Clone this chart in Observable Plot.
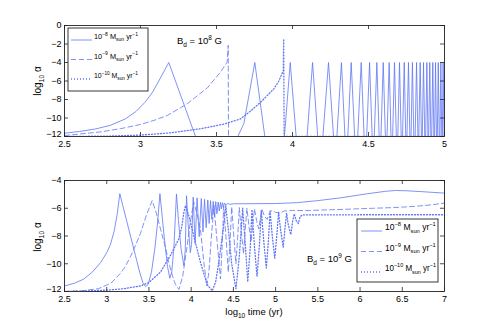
<!DOCTYPE html>
<html><head><meta charset="utf-8">
<script src="https://cdn.jsdelivr.net/npm/d3@7"></script>
<script src="https://cdn.jsdelivr.net/npm/@observablehq/plot@0.6"></script>
<style>
body{margin:0;background:#fff;}
#wrap{width:491px;height:327px;position:relative;overflow:hidden;background:#fff;}
#wrap svg{display:block;}
svg text{white-space:pre;}
</style></head><body><div id="wrap"></div>
<script>
// ---------- data ----------
const legendLabels = [["10","−8"],["10","−9"],["10","−10"]];
const topXTicks = [2.5,3,3.5,4,4.5,5];
const topXLabels = ["2.5","3","3.5","4","4.5","5"];
const topYTicks = [0,-2,-4,-6,-8,-10,-12];
const topYLabels = ["0","−2","−4","−6","−8","−10","−12"];
const botXTicks = [2.5,3,3.5,4,4.5,5,5.5,6,6.5,7];
const botXLabels = ["2.5","3","3.5","4","4.5","5","5.5","6","6.5","7"];
const botYTicks = [-4,-6,-8,-10,-12];
const botYLabels = ["−4","−6","−8","−10","−12"];

// top panel (B_d = 10^8 G)
const topSolid = [
[2.5,-11.65],[2.6,-11.45],[2.7,-11.2],[2.8,-10.8],[2.9,-10.1],[2.97,-9.3],[3.03,-8.3],[3.08,-7.2],[3.12,-6.0],[3.16,-4.8],[3.186,-4.0],[3.362,-12],
[3.64,-12],[3.68,-10.6],[3.752,-4],[3.818,-12],
[3.947,-12],[3.985,-4],[4.024,-12],
[4.096,-12],[4.132,-4],[4.166,-12],
[4.200,-12],[4.237,-4],[4.270,-12],
[4.292,-12],[4.322,-4],[4.345,-12],
[4.364,-12],[4.386,-4],[4.409,-12],
[4.429,-12],[4.452,-4],[4.471,-12],
[4.488,-12],[4.507,-4],[4.524,-12],
[4.538,-12],[4.555,-4],[4.570,-12],
[4.582,-12],[4.597,-4],[4.611,-12],
[4.622,-12],[4.636,-4],[4.648,-12],
[4.659,-12],[4.671,-4],[4.683,-12],
[4.693,-12],[4.704,-4],[4.715,-12],
[4.724,-12],[4.735,-4],[4.745,-12],
[4.753,-12],[4.763,-4],[4.772,-12],
[4.780,-12],[4.789,-4],[4.798,-12],
[4.807,-12],[4.816,-4],[4.825,-12],
[4.831,-12],[4.840,-4],[4.848,-12],
[4.854,-12],[4.862,-4],[4.870,-12],
[4.876,-12],[4.884,-4],[4.891,-12],
[4.896,-12],[4.903,-4],[4.910,-12],
[4.916,-12],[4.923,-4],[4.930,-12],
[4.935,-12],[4.941,-4],[4.947,-12],
[4.953,-12],[4.959,-4],[4.965,-12],
[4.970,-12],[4.976,-4],[4.982,-12],
[4.986,-12],[4.991,-4],[4.997,-12],[5.0,-12]];
const topDashed = [[2.5,-11.9],[2.74,-11.5],[2.87,-11.15],[3.0,-10.7],[3.09,-10.25],[3.176,-9.73],[3.307,-8.47],[3.44,-6.74],[3.526,-5.05],[3.57,-3.97],[3.577,-2.15],[3.579,-12],[5.0,-12]];
const topDotted = [[2.5,-12],[2.8,-11.95],[3.0,-11.85],[3.2,-11.6],[3.4,-11.15],[3.55,-10.65],[3.658,-10.1],[3.72,-9.3],[3.79,-8.3],[3.85,-7.3],[3.877,-6.85],[3.91,-6.0],[3.939,-4.9],[3.942,-1.45],[3.945,-12],[5.0,-12]];

// bottom panel (B_d = 10^9 G)
const botSolid = [
[2.5,-11.6],[2.62,-11.4],[2.73,-11.1],[2.83,-10.6],[2.93,-9.9],[3.0,-9.2],[3.045,-8.6],[3.09,-7.6],[3.125,-6.4],[3.155,-4.95],
[3.19,-5.8],[3.24,-7.0],[3.29,-8.2],[3.34,-9.4],[3.39,-10.6],[3.43,-11.4],[3.46,-11.65],[3.49,-11.5],[3.53,-10.6],[3.57,-8.9],[3.6,-7.2],[3.63,-4.95],
[3.66,-6.8],[3.69,-8.6],[3.72,-10.2],[3.747,-11.05],[3.77,-10.6],[3.795,-8.9],[3.826,-4.97],
[3.85,-6.9],[3.88,-8.9],[3.913,-10.15],[3.93,-9.0],[3.945,-5.1],
[3.965,-7.2],[3.99,-9.2],[4.005,-8.6],[4.024,-5.2],
[4.047,-8.55],[4.07,-5.25],[4.095,-8.05],[4.12,-5.3],[4.14,-7.7],[4.158,-5.35],[4.178,-7.4],[4.197,-5.4],
[4.213,-7.1],[4.229,-5.45],[4.245,-6.8],[4.261,-5.5],[4.276,-6.6],[4.291,-5.52],[4.305,-6.4],[4.32,-5.55],
[4.333,-6.2],[4.347,-5.57],[4.358,-6.05],[4.37,-5.6],[4.382,-5.9],[4.395,-5.62],[4.41,-5.8],[4.43,-5.65],[4.46,-5.72],[4.5,-5.68],
[5.0,-5.66],[5.25,-5.6],[5.5,-5.45],[5.77,-5.25],[6.08,-4.96],[6.3,-4.78],[6.42,-4.72],[6.55,-4.74],[6.72,-4.8],[7.0,-4.91]];
const botDashed = [
[2.5,-12],[2.7,-11.95],[2.9,-11.8],[3.05,-11.4],[3.16,-10.7],[3.22,-10.2],[3.28,-9.5],[3.34,-8.7],[3.4,-7.8],[3.47,-6.5],[3.538,-5.45],
[3.59,-6.4],[3.637,-7.5],[3.69,-8.7],[3.735,-9.9],[3.78,-10.9],[3.814,-11.5],[3.855,-11.85],[3.9,-10.9],[3.953,-8.7],[3.99,-7.0],[4.03,-5.55],
[4.07,-6.4],[4.11,-7.5],[4.15,-9.9],[4.185,-11.6],[4.21,-10.6],[4.24,-8.0],[4.27,-5.8],[4.31,-8.6],[4.347,-11.1],[4.365,-9.0],[4.385,-5.85],
[4.415,-8.3],[4.44,-10.6],[4.46,-8.5],[4.48,-5.9],[4.505,-8.0],[4.53,-10.0],[4.55,-8.2],[4.57,-5.95],[4.595,-7.7],[4.62,-9.3],[4.64,-7.6],[4.66,-6.0],
[4.685,-7.3],[4.71,-8.4],[4.73,-7.1],[4.75,-6.05],[4.775,-6.9],[4.8,-7.5],[4.82,-6.7],[4.84,-6.1],[4.87,-6.6],[4.9,-6.8],[4.93,-6.3],[4.96,-6.15],
[5.0,-6.3],[5.05,-6.35],[5.1,-6.2],[5.2,-6.16],[5.4,-6.16],[5.8,-6.08],[6.16,-6.0],[6.4,-5.95],[6.64,-5.87],[6.85,-5.75],[7.0,-5.63]];
const botDotted = [
[2.5,-12],[2.8,-11.95],[3.0,-11.9],[3.2,-11.8],[3.4,-11.6],[3.5,-11.35],[3.637,-10.6],[3.755,-9.4],[3.854,-8.2],[3.89,-7.3],[3.913,-6.3],[3.933,-5.8],
[3.97,-6.5],[4.012,-7.5],[4.06,-8.7],[4.11,-9.9],[4.19,-11.5],[4.25,-11.95],[4.29,-11.3],[4.327,-9.9],[4.38,-7.5],[4.41,-5.85],
[4.44,-7.5],[4.48,-10.0],[4.53,-11.8],[4.57,-9.5],[4.61,-6.0],[4.64,-8.5],[4.67,-11.3],[4.7,-8.8],[4.72,-6.1],[4.75,-8.8],[4.78,-10.9],
[4.81,-8.5],[4.83,-6.15],[4.86,-8.4],[4.89,-10.3],[4.915,-8.3],[4.935,-6.2],[4.96,-8.0],[4.99,-9.6],[5.015,-7.9],[5.035,-6.3],[5.06,-7.6],
[5.09,-8.8],[5.11,-7.5],[5.13,-6.35],[5.15,-7.2],[5.18,-7.9],[5.2,-7.0],[5.22,-6.4],[5.245,-6.9],[5.27,-7.1],[5.29,-6.6],[5.32,-6.48],[6.0,-6.47],[7.0,-6.47]];

// ---------- drawing ----------
const W = 491, ML = 64, MR = 47;
const BLUE = "#6076f4";
const FONT = "Liberation Sans, Arial, Helvetica, sans-serif";
const styles = {
  solid: {stroke: BLUE, strokeWidth: 0.8},
  dashed: {stroke: BLUE, strokeWidth: 0.8, strokeDasharray: "5,3"},
  dotted: {stroke: BLUE, strokeWidth: 1.3, strokeDasharray: "1,2"}
};

function panel({h, mt, mb, xDomain, yDomain, xTicks, xLabels, yTicks, yLabels, series}) {
  const innerH = h - mt - mb, innerW = W - ML - MR;
  const marks = series.map(([data, st]) =>
    Plot.line(data, {x: d => d[0], y: d => d[1], ...styles[st], clip: true}));
  const lowY = yTicks[yTicks.length - 1];
  return Plot.plot({
    width: W, height: h,
    marginLeft: ML, marginRight: MR, marginTop: mt, marginBottom: mb,
    style: {fontFamily: FONT, fontSize: "9px", background: "#fff", overflow: "visible", color: "#000"},
    x: {domain: xDomain}, y: {domain: yDomain},
    marks: [
      ...marks,
      Plot.tickX(xTicks, {x: d => d, insetTop: innerH - 4, stroke: "#222", strokeWidth: 0.8}),
      Plot.tickX(xTicks, {x: d => d, insetBottom: innerH - 4, stroke: "#222", strokeWidth: 0.8}),
      Plot.tickY(yTicks, {y: d => d, insetRight: innerW - 4, stroke: "#222", strokeWidth: 0.8}),
      Plot.tickY(yTicks, {y: d => d, insetLeft: innerW - 4, stroke: "#222", strokeWidth: 0.8}),
      Plot.axisX(xTicks, {tickSize: 0, tickPadding: 4, label: null, tickFormat: d => xLabels[xTicks.indexOf(d)]}),
      Plot.axisY(yTicks.slice(0, -1), {tickSize: 0, tickPadding: 3, label: null, tickFormat: d => yLabels[yTicks.indexOf(d)]}),
      Plot.axisY([lowY], {tickSize: 0, tickPadding: 3, dy: -2, label: null, tickFormat: d => yLabels[yTicks.indexOf(d)]}),
      Plot.frame({stroke: "#222", strokeWidth: 0.9})
    ]
  });
}

function rich(sel, x, y, parts, fs, anchor, fitWidth) {
  const t = sel.append("text").attr("x", x).attr("y", y).attr("font-size", fs)
    .attr("fill", "#000").attr("text-anchor", anchor || "start").attr("font-family", FONT);
  let cur = 0;
  for (const [s, k] of parts) {
    const ts = t.append("tspan").text(s);
    const target = k === "sup" ? -0.42 * fs : k === "sub" ? 0.32 * fs : 0;
    ts.attr("dy", target - cur); cur = target;
    if (k !== "n") ts.attr("font-size", fs * 0.68);
  }
  if (fitWidth) {
    const n = t.node();
    if (n.getComputedTextLength() > fitWidth) {
      t.attr("textLength", fitWidth).attr("lengthAdjust", "spacingAndGlyphs");
    }
  }
  return t;
}

function legend(svg, x0, y0, w, hgt, lineX1, lineX2, textX, rows, fs, fit) {
  const g = d3.select(svg).append("g");
  g.append("rect").attr("x", x0).attr("y", y0).attr("width", w).attr("height", hgt)
    .attr("fill", "#fff").attr("stroke", "#222").attr("stroke-width", 0.9);
  const keys = ["solid", "dashed", "dotted"];
  rows.forEach((ry, i) => {
    const st = styles[keys[i]];
    g.append("line").attr("x1", lineX1).attr("x2", lineX2).attr("y1", ry).attr("y2", ry)
      .attr("stroke", st.stroke).attr("stroke-width", st.strokeWidth)
      .attr("stroke-dasharray", st.strokeDasharray || null);
    const [b, e] = legendLabels[i];
    rich(g, textX, ry - 1, [[b, "n"], [e, "sup"], [" M", "n"], ["sun", "sub"], [" yr", "n"], ["−1", "sup"]], fs, "start", fit);
  });
}

function ylabel(svg, cx, cy) {
  const g = d3.select(svg).append("g").attr("transform", `translate(${cx},${cy}) rotate(-90)`);
  rich(g, 0, 3, [["log", "n"], ["10", "sub"], [" α", "n"]], 10, "middle");
}

const wrap = document.getElementById("wrap");

const topPlot = panel({h: 160, mt: 25, mb: 24, xDomain: [2.5, 5], yDomain: [-12, 0],
  xTicks: topXTicks, xLabels: topXLabels, yTicks: topYTicks, yLabels: topYLabels,
  series: [[topSolid, "solid"], [topDashed, "dashed"], [topDotted, "dotted"]]});
wrap.appendChild(topPlot);
legend(topPlot, 68, 28, 80, 63, 71, 92, 94, [40, 59.5, 79], 7.5, 44);
rich(d3.select(topPlot), 177, 44, [["B", "n"], ["d", "sub"], [" = 10", "n"], ["8", "sup"], [" G", "n"]], 9.5);
ylabel(topPlot, 38, 81);

const botPlot = panel({h: 167, mt: 20, mb: 36, xDomain: [2.5, 7], yDomain: [-12, -4],
  xTicks: botXTicks, xLabels: botXLabels, yTicks: botYTicks, yLabels: botYLabels,
  series: [[botSolid, "solid"], [botDashed, "dashed"], [botDotted, "dotted"]]});
wrap.appendChild(botPlot);
legend(botPlot, 357, 59, 81, 63, 361, 382, 385, [71, 91.5, 112], 8.5, 51);
rich(d3.select(botPlot), 307, 102, [["B", "n"], ["d", "sub"], [" = 10", "n"], ["9", "sup"], [" G", "n"]], 9.5);
ylabel(botPlot, 38, 77);
rich(d3.select(botPlot), 254, 155, [["log", "n"], ["10", "sub"], [" time (yr)", "n"]], 9.5, "middle");
</script></body></html>
